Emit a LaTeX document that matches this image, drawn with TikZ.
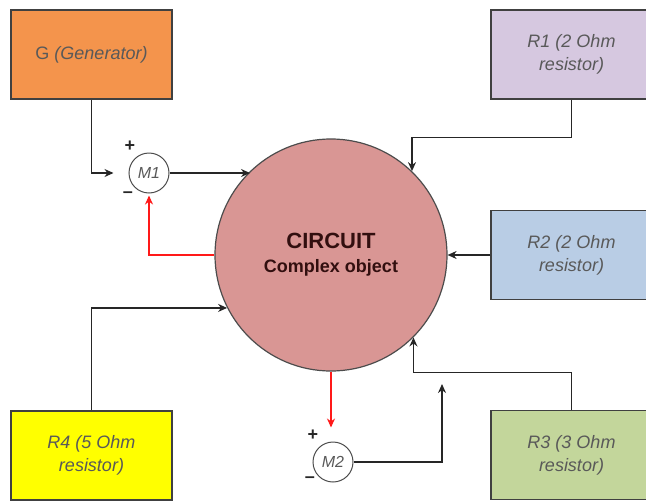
\documentclass[tikz,border=0pt]{standalone}
\usepackage{fontspec}
\setmainfont{Liberation Sans}
\usetikzlibrary{arrows.meta,positioning}

\definecolor{gencolor}{RGB}{244,148,76}
\definecolor{rone}{RGB}{214,200,224}
\definecolor{rtwo}{RGB}{185,205,229}
\definecolor{rthree}{RGB}{195,214,155}
\definecolor{rfour}{RGB}{255,255,0}
\definecolor{circcolor}{RGB}{217,150,148}
\definecolor{circtext}{RGB}{50,15,15}

\tikzset{
  block/.style={draw=black!75, line width=1.5pt, minimum width=161pt, minimum height=89pt,
    inner sep=0pt, align=center, font=\fontsize{18}{23}\selectfont\itshape, text=black!65},
  meter/.style={draw=black!70, line width=1pt, circle, minimum size=40pt, inner sep=0pt,
    font=\fontsize{16}{16}\selectfont\itshape, text=black!65},
  sign/.style={font=\fontsize{18}{18}\selectfont\bfseries, inner sep=0pt, text=black!85},
  wire/.style={draw=black!85, line width=1.4pt, -{Stealth[length=9pt,width=8pt]}},
  feedback/.style={wire, draw=red!90}
}

\begin{document}
\begin{tikzpicture}[x=1pt, y=-1pt]
  \useasboundingbox (0, 0) rectangle (646, 501);

  % blocks
  \node[block, fill=gencolor] (gen) at (91.5, 54.5) {\textup{G} (Generator)};
  \node[block, fill=rone] (rone) at (571.5, 54.5) {R1 (2 Ohm\\resistor)};
  \node[block, fill=rtwo] (rtwo) at (571.5, 255) {R2 (2 Ohm\\resistor)};
  \node[block, fill=rthree] (rthree) at (571.5, 455) {R3 (3 Ohm\\resistor)};
  \node[block, fill=rfour] (rfour) at (91.5, 455.5) {R4 (5 Ohm\\resistor)};

  % the circuit
  \node[circle, draw=black!70, line width=1.2pt, fill=circcolor, minimum size=232pt, inner sep=0pt,
    align=center, text=circtext, font=\fontsize{18}{24}\selectfont\bfseries] (circuit) at (331, 255)
    {{\fontsize{22}{24}\selectfont CIRCUIT}\\Complex object};

  % meters
  \node[meter] (mone) at (149, 173) {M1};
  \node[meter] (mtwo) at (333, 462) {M2};
  \node[sign] (moneplus) at (130, 146) {+};
  \node[sign] (moneminus) at (128, 195) {\textendash};
  \node[sign] (mtwoplus) at (313, 435) {+};
  \node[sign] (mtwominus) at (310, 480) {\textendash};

  % connectors
  \draw[wire, shorten >=15pt] (gen.south) |- (mone.west);
  \draw[wire] (mone.east) -- (mone.east -| circuit.134);
  \draw[feedback, shorten >=2pt] (circuit.west) -| (mone.south);
  \draw[wire] (rone.south) -- ++(0, 38) -| (circuit.46);
  \draw[wire] (rtwo.west) -- (circuit.east);
  \draw[wire] (rfour.north) |- (circuit.207);
  \draw[wire] (rthree.north) -- ++(0, -37) coordinate (rthreebend) -| (circuit.315);
  \coordinate (junction) at (442, 373);
  \draw[wire, shorten >=11pt] (mtwo.east) -| (junction);
  \draw[feedback, shorten >=14pt] (circuit.south) -- (circuit.south |- mtwo.north);
\end{tikzpicture}
\end{document}
